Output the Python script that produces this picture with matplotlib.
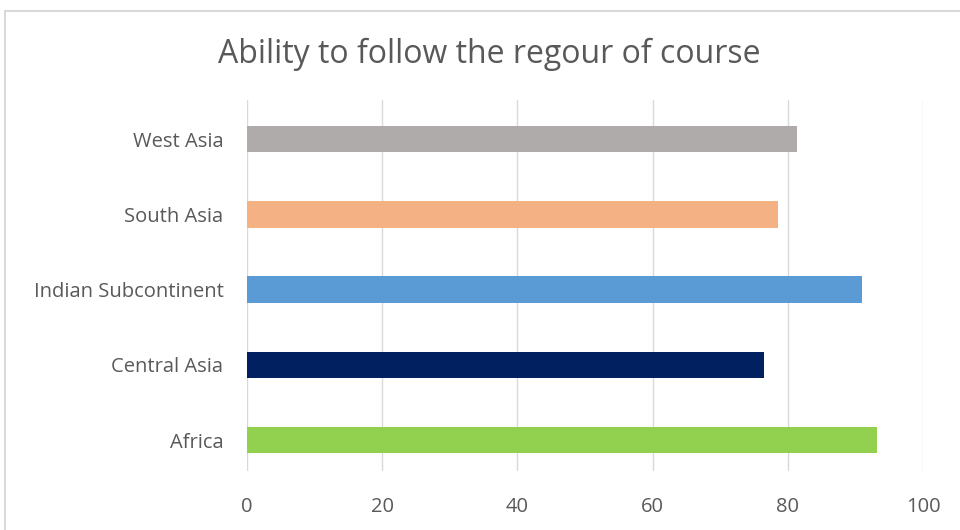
import matplotlib
matplotlib.use("Agg")
import matplotlib.pyplot as plt
from matplotlib.patches import Rectangle

# Scores per region (bottom to top as drawn)
regions = ["Africa", "Central Asia", "Indian Subcontinent", "South Asia", "West Asia"]
scores = [93.2, 76.5, 90.9, 78.6, 81.3]
colors = ["#92d050", "#002060", "#5b9bd5", "#f4b183", "#afabab"]
xticks = [0, 20, 40, 60, 80, 100]

plt.rcParams["font.family"] = ["Open Sans", "DejaVu Sans"]

fig = plt.figure(figsize=(9.6, 5.3), dpi=100)
ax = fig.add_axes([0.2573, 0.1113, 0.7042, 0.70])

ypos = list(range(len(regions)))
ax.barh(ypos, scores, height=0.35, color=colors, zorder=3)

ax.set_xlim(0, 100)
ax.set_ylim(-0.41, 4.52)
ax.set_xticks(xticks)
ax.set_xticklabels([str(t) for t in xticks])
ax.set_yticks(ypos)
ax.set_yticklabels(regions)

ax.grid(True, axis="x", color="#d9d9d9", linewidth=1, zorder=0)
for s in ax.spines.values():
    s.set_visible(False)
ax.tick_params(axis="both", length=0, colors="#595959", labelsize=14.5)
ax.tick_params(axis="y", pad=17)
ax.tick_params(axis="x", pad=19)

fig.text(0.51, 0.897, "Ability to follow the regour of course",
         ha="center", va="center", fontsize=23, color="#595959")

# chart frame (runs off the right and bottom edges)
fig.patches.append(Rectangle((5 / 960, -0.05), 1.0, 1 - 11 / 530 + 0.05,
                             transform=fig.transFigure, fill=False,
                             edgecolor="#d9d9d9", linewidth=1.5))

fig.savefig("out.png", dpi=100)
